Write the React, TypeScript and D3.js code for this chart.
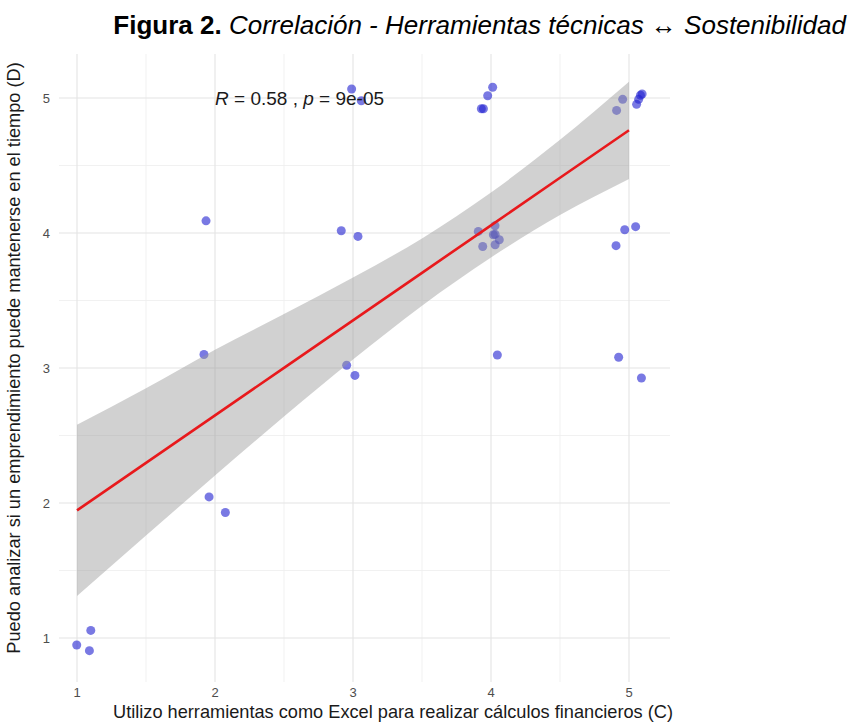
import React from "react";
import * as d3 from "d3";

// jittered scatter points
const pointX = [1.10, 0.998, 1.09, 1.935, 1.92, 1.957, 2.075, 2.99, 3.06, 2.915, 3.036, 2.954, 3.014,
  4.012, 3.976, 3.93, 3.945, 3.908, 4.029, 4.017, 4.03, 4.06, 4.03, 3.94, 4.046,
  4.954, 4.91, 5.095, 5.083, 5.07, 5.055, 4.969, 5.048, 4.906, 4.925, 5.09];
const pointY = [1.056, 0.948, 0.906, 4.09, 3.10, 2.045, 1.93, 5.067, 4.98, 4.017, 3.975, 3.02, 2.945,
  5.08, 5.017, 4.92, 4.92, 4.012, 4.054, 3.987, 3.99, 3.95, 3.913, 3.90, 3.096,
  4.99, 4.908, 5.03, 5.02, 4.99, 4.953, 4.024, 4.047, 3.906, 3.08, 2.926];

// regression line and confidence band
const fitX = [1, 1.5, 2, 2.5, 3, 3.5, 4, 4.5, 5];
const fitY = [1.945, 2.297, 2.649, 3.001, 3.353, 3.705, 4.057, 4.409, 4.761];
const fitLo = [1.311, 1.759, 2.203, 2.640, 3.063, 3.462, 3.819, 4.133, 4.40];
const fitHi = [2.579, 2.85, 3.135, 3.40, 3.67, 3.96, 4.30, 4.69, 5.12];

const xTicks = [1, 2, 3, 4, 5];
const yTicks = [1, 2, 3, 4, 5];
const xMinor = [1.5, 2.5, 3.5, 4.5];
const yMinor = [1.5, 2.5, 3.5, 4.5];

const titleBold = "Figura 2.";
const titleItalic = " Correlación - Herramientas técnicas ↔ Sostenibilidad";
const xTitle = "Utilizo herramientas como Excel para realizar cálculos financieros (C)";
const yTitle = "Puedo analizar si un emprendimiento puede mantenerse en el tiempo (D)";

const W = 851, H = 725;
const panel = { left: 59, right: 670, top: 54, bottom: 682 };

export default function App() {
  const x = d3.scaleLinear().domain([1, 5]).range([77, 629]);
  const y = d3.scaleLinear().domain([1, 5]).range([638, 98]);
  const band = d3.area<number>()
    .x((_, i) => x(fitX[i]))
    .y0((_, i) => y(fitLo[i]))
    .y1((_, i) => y(fitHi[i]))
    .curve(d3.curveMonotoneX);
  const line = d3.line<number>()
    .x((_, i) => x(fitX[i]))
    .y((_, i) => y(fitY[i]));
  const font = "'Liberation Sans', Arial, Helvetica, sans-serif";
  const grid = "#e4e4e4";
  return (
    <svg width={W} height={H} style={{ position: "absolute", left: 0, top: 0, background: "#fff" }} fontFamily={font}>
      <rect x={0} y={0} width={W} height={H} fill="#fff" />
      {/* minor grid */}
      {xMinor.map((t) => (
        <line key={"xm" + t} x1={x(t)} x2={x(t)} y1={panel.top} y2={panel.bottom} stroke="#eeeeee" strokeWidth={0.8} />
      ))}
      {yMinor.map((t) => (
        <line key={"ym" + t} x1={panel.left} x2={panel.right} y1={y(t)} y2={y(t)} stroke="#eeeeee" strokeWidth={0.8} />
      ))}
      {/* major grid */}
      {xTicks.map((t) => (
        <line key={"xg" + t} x1={x(t)} x2={x(t)} y1={panel.top} y2={panel.bottom} stroke={grid} strokeWidth={1.1} />
      ))}
      {yTicks.map((t) => (
        <line key={"yg" + t} x1={panel.left} x2={panel.right} y1={y(t)} y2={y(t)} stroke={grid} strokeWidth={1.1} />
      ))}
      {/* points */}
      {pointX.map((px, i) => (
        <circle key={"p" + i} cx={x(px)} cy={y(pointY[i])} r={4.5} fill="#2020d0" fillOpacity={0.6} />
      ))}
      {/* confidence band and fit */}
      <path d={band(fitX) || ""} fill="#999999" fillOpacity={0.45} />
      <path d={line(fitX) || ""} fill="none" stroke="#e8191c" strokeWidth={2.6} />
      {/* annotation */}
      <text x={x(2)} y={y(5)} dy="0.36em" fontSize={19} fill="#1a1a1a">
        <tspan fontStyle="italic">R</tspan>
        <tspan> = 0.58 , </tspan>
        <tspan fontStyle="italic">p</tspan>
        <tspan> = 9e-05</tspan>
      </text>
      {/* tick labels */}
      {xTicks.map((t) => (
        <text key={"xt" + t} x={x(t)} y={697} textAnchor="middle" fontSize={13} fill="#4d4d4d">{t}</text>
      ))}
      {yTicks.map((t) => (
        <text key={"yt" + t} x={50} y={y(t)} dy="0.35em" textAnchor="end" fontSize={13} fill="#4d4d4d">{t}</text>
      ))}
      {/* axis titles */}
      <text x={393} y={718} textAnchor="middle" fontSize={18.2} fill="#1a1a1a">{xTitle}</text>
      <text transform={`translate(20,358) rotate(-90)`} textAnchor="middle" fontSize={18.2} fill="#1a1a1a">{yTitle}</text>
      {/* title */}
      <text x={846} y={34} textAnchor="end" fontSize={26} fill="#000">
        <tspan fontWeight="bold">{titleBold}</tspan>
        <tspan fontStyle="italic">{titleItalic}</tspan>
      </text>
    </svg>
  );
}
